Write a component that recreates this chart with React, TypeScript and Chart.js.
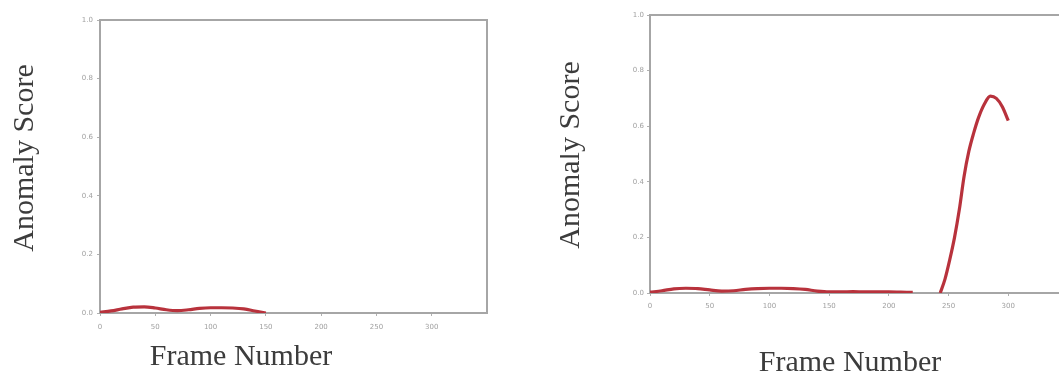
import React, { useEffect, useRef } from "react";
import { Chart, registerables } from "chart.js";

Chart.register(...registerables);

// ---- data ----
const xTickValues = [0, 50, 100, 150, 200, 250, 300];
const yTickValues = [0, 0.2, 0.4, 0.6, 0.8, 1.0];

const leftFrames = [0, 10, 20, 30, 40, 50, 60, 70, 80, 90, 100, 110, 120, 130, 140, 150];
const leftScores = [0.002, 0.007, 0.014, 0.02, 0.021, 0.017, 0.011, 0.008, 0.011, 0.016, 0.018, 0.018, 0.017, 0.014, 0.007, 0.0];

const rightFrames = [
  0, 10, 20, 30, 40, 50, 60, 70, 80, 90, 100, 110, 120, 130, 140, 150, 160, 170, 180, 190, 200, 210, 220, 230,
  243, 247, 251, 255, 259, 263, 267, 271, 275, 280, 285, 290, 295, 300,
];
const rightScores = [
  0.003, 0.008, 0.015, 0.017, 0.016, 0.011, 0.007, 0.008, 0.013, 0.016, 0.017, 0.017, 0.016, 0.013, 0.007, 0.004,
  0.004, 0.005, 0.004, 0.004, 0.004, 0.003, 0.002, null,
  0.0, 0.05, 0.12, 0.2, 0.3, 0.42, 0.51, 0.575, 0.63, 0.68, 0.708, 0.7, 0.67, 0.62,
];

const xTitleText = "Frame Number";
const yTitleText = "Anomaly Score";

const framePlugin = {
  id: "frameAndTitles",
  beforeDatasetsDraw(chart: any, _args: any, opts: any) {
    const { ctx, chartArea: a } = chart;
    ctx.save();
    ctx.strokeStyle = "#a6a6a6";
    ctx.lineWidth = 2;
    if (opts.fullBox) {
      ctx.strokeRect(a.left, a.top, a.right - a.left, a.bottom - a.top);
    } else {
      ctx.beginPath();
      ctx.moveTo(a.right + 20, a.top);
      ctx.lineTo(a.left, a.top);
      ctx.lineTo(a.left, a.bottom);
      ctx.lineTo(a.right + 20, a.bottom);
      ctx.stroke();
    }
    ctx.restore();
  },
  afterDraw(chart: any, _args: any, opts: any) {
    const { ctx } = chart;
    ctx.save();
    ctx.fillStyle = "#3c3c3c";
    ctx.font = '30px "Liberation Serif", "Times New Roman", serif';
    ctx.textAlign = "center";
    ctx.textBaseline = "middle";
    ctx.fillText(opts.xTitle, opts.xTitleX, opts.xTitleY);
    ctx.translate(opts.yTitleX, opts.yTitleY);
    ctx.rotate(-Math.PI / 2);
    ctx.fillText(opts.yTitle, 0, 0);
    ctx.restore();
  },
};

type PanelProps = {
  frames: number[];
  scores: (number | null)[];
  width: number;
  left: number;
  layoutPadding: { left: number; right: number; top: number; bottom: number };
  yAxisWidth: number;
  xAxisHeight: number;
  xLabelPad: number;
  yLabelPad: number;
  fullBox: boolean;
  titlePos: { xTitleX: number; xTitleY: number; yTitleX: number; yTitleY: number };
};

function Panel(p: PanelProps) {
  const ref = useRef<HTMLCanvasElement | null>(null);
  useEffect(() => {
    if (!ref.current) return;
    const chart = new Chart(ref.current, {
      type: "line",
      data: {
        datasets: [
          {
            data: p.frames.map((f, i) => ({ x: f, y: p.scores[i] as any })),
            borderColor: "#b8323c",
            borderWidth: 3.2,
            pointRadius: 0,
            cubicInterpolationMode: "monotone",
            spanGaps: false,
            fill: false,
          },
        ],
      },
      options: {
        animation: false,
        responsive: false,
        layout: { padding: p.layoutPadding },
        plugins: {
          legend: { display: false },
          tooltip: { enabled: false },
          frameAndTitles: {
            fullBox: p.fullBox,
            xTitle: xTitleText,
            yTitle: yTitleText,
            ...p.titlePos,
          },
        } as any,
        scales: {
          x: {
            type: "linear",
            min: 0,
            max: 350,
            afterFit: (s: any) => {
              s.height = p.xAxisHeight;
            },
            afterBuildTicks: (s: any) => {
              s.ticks = xTickValues.map((v) => ({ value: v }));
            },
            grid: { display: true, drawOnChartArea: false, drawTicks: true, tickLength: 3, color: "#b0b0b0" },
            border: { display: false },
            ticks: {
              font: { size: 7, family: "DejaVu Sans" },
              color: "#a0a0a0",
              padding: p.xLabelPad,
              maxRotation: 0,
              autoSkip: false,
            },
          },
          y: {
            type: "linear",
            min: 0,
            max: 1,
            afterFit: (s: any) => {
              s.width = p.yAxisWidth;
            },
            afterBuildTicks: (s: any) => {
              s.ticks = yTickValues.map((v) => ({ value: v }));
            },
            grid: { display: true, drawOnChartArea: false, drawTicks: true, tickLength: 3, color: "#b0b0b0" },
            border: { display: false },
            ticks: {
              font: { size: 7, family: "DejaVu Sans" },
              color: "#a0a0a0",
              padding: p.yLabelPad,
              callback: (v: any) => Number(v).toFixed(1),
            },
          },
        },
      },
      plugins: [framePlugin as any],
    });
    return () => chart.destroy();
  }, []);
  return (
    <canvas
      ref={ref}
      width={p.width}
      height={380}
      style={{ position: "absolute", left: p.left, top: 0, width: p.width, height: 380 }}
    />
  );
}

export default function App() {
  return (
    <div
      style={{
        position: "absolute",
        left: 0,
        top: 0,
        width: 1059,
        height: 380,
        overflow: "hidden",
        background: "#ffffff",
      }}
    >
      <Panel
        frames={leftFrames}
        scores={leftScores}
        width={500}
        left={0}
        layoutPadding={{ left: 0, right: 13, top: 20, bottom: 0 }}
        yAxisWidth={100}
        xAxisHeight={67}
        xLabelPad={7}
        yLabelPad={4}
        fullBox={true}
        titlePos={{ xTitleX: 241, xTitleY: 357, yTitleX: 25, yTitleY: 158 }}
      />
      <Panel
        frames={rightFrames}
        scores={rightScores}
        width={520}
        left={560}
        layoutPadding={{ left: 0, right: 12, top: 15, bottom: 0 }}
        yAxisWidth={90}
        xAxisHeight={87}
        xLabelPad={6}
        yLabelPad={3}
        fullBox={false}
        titlePos={{ xTitleX: 290, xTitleY: 363, yTitleX: 11, yTitleY: 155 }}
      />
    </div>
  );
}
